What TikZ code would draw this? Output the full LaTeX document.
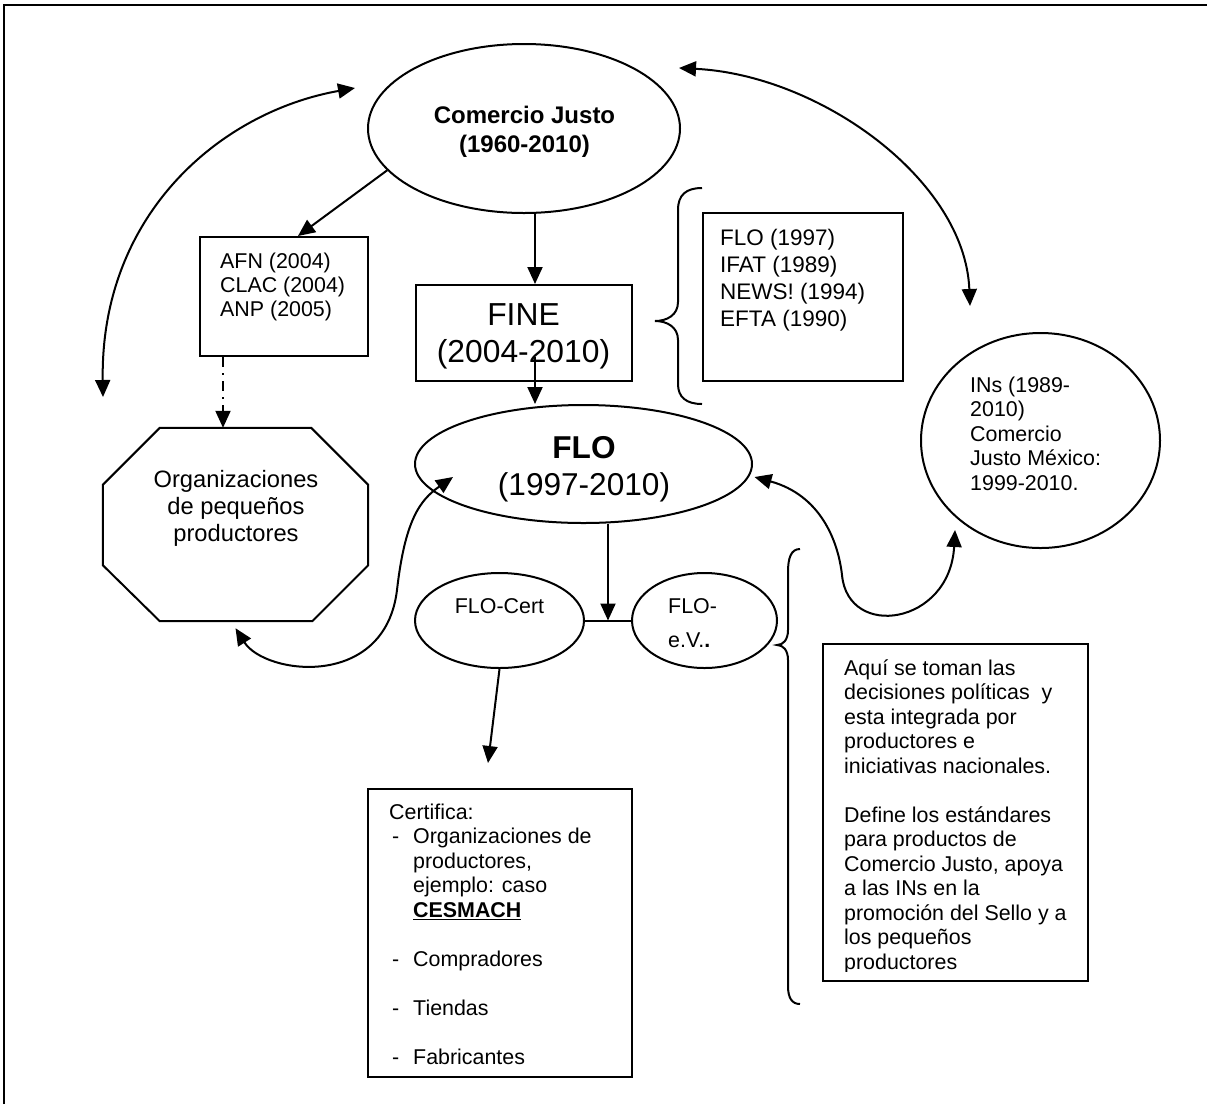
\documentclass[tikz,border=0pt]{standalone}
\usepackage{fontspec}
\setmainfont{Liberation Sans}
\usetikzlibrary{shapes.geometric,arrows.meta,calc}

\newcommand{\lft}[1]{\begin{tabular}[t]{@{}l@{}}#1\end{tabular}}
\newcommand{\ctr}[1]{\begin{tabular}[t]{@{}c@{}}#1\end{tabular}}
\newcommand{\ulb}[1]{\setbox0\hbox{#1}\rlap{\rule[-3.2pt]{\wd0}{1.7pt}}\box0}
\newcommand{\dsh}{\makebox[24pt][l]{\hspace*{3pt}-}}

\begin{document}
\begin{tikzpicture}[x=1pt,y=-1pt,
  ln/.style={line width=2pt},
  arr/.style={ln,-{Triangle[length=17pt,width=15pt]}},
  darr/.style={ln,{Triangle[length=17pt,width=15pt]}-{Triangle[length=17pt,width=15pt]}},
  shp/.style={draw,line width=2pt,inner sep=0pt},
  ell/.style={shp,ellipse},
  box/.style={shp,rectangle},
  txt/.style={inner sep=0pt,font=\fontsize{21.4}{24.5}\selectfont},
  dashdot/.style={dash pattern=on 10pt off 6pt on 2pt off 6pt}
]
\useasboundingbox (0,0) rectangle (1207,1104);
% outer frame
\draw[line width=2pt] (4,1104) -- (4,5) -- (1207,5);

% shapes
\node[ell,minimum width=312pt,minimum height=169pt] (cj) at (524,128.5) {};
\node[box,minimum width=168pt,minimum height=119pt] (afn) at (284,296.5) {};
\node[box,minimum width=216pt,minimum height=96pt] (fine) at (524,333) {};
\node[box,minimum width=200pt,minimum height=168pt] (flobox) at (803,297) {};
\node[ell,minimum width=239pt,minimum height=215pt] (ins) at (1040.5,440.5) {};
\node[ell,minimum width=337pt,minimum height=118pt] (flo) at (583.5,464) {};
\node[inner sep=0pt,minimum width=265pt,minimum height=193pt] (oct) at (235.5,524.5) {};
\draw[ln] ([xshift=57pt]oct.north west) -- ([xshift=-57pt]oct.north east)
  -- ([yshift=-57pt]oct.north east) -- ([yshift=56pt]oct.south east)
  -- ([xshift=-56pt]oct.south east) -- ([xshift=57pt]oct.south west)
  -- ([yshift=56pt]oct.south west) -- ([yshift=-57pt]oct.north west) -- cycle;
\node[ell,minimum width=169pt,minimum height=95pt] (flocert) at (499.5,620.5) {};
\node[ell,minimum width=145pt,minimum height=95pt] (floev) at (704.5,620.5) {};
\node[box,line width=2.6pt,minimum width=264pt,minimum height=288pt] (cert) at (500,933) {};
\node[box,line width=2.6pt,minimum width=265pt,minimum height=337pt] (dec) at (955.5,812.5) {};

% texts
\node[txt,font=\fontsize{24}{29}\selectfont\bfseries,anchor=base] (cjt) at (524.5,123) {\ctr{Comercio Justo\\(1960-2010)}};
\node[txt,font=\fontsize{21.4}{24}\selectfont,anchor=base west] (afnt) at (220,268) {\lft{AFN (2004)\\CLAC (2004)\\ANP (2005)}};
\node[txt,font=\fontsize{31.8}{37}\selectfont,anchor=base] (finet) at (523.5,325) {\ctr{FINE\\(2004-2010)}};
\node[txt,font=\fontsize{22.5}{27.3}\selectfont,anchor=base west] (flobt) at (720,245) {\lft{FLO (1997)\\IFAT (1989)\\NEWS! (1994)\\EFTA (1990)}};
\node[txt,anchor=base west] (inst) at (970,392) {\lft{INs (1989-\\2010)\\Comercio\\Justo México:\\1999-2010.}};
\node[txt,font=\fontsize{31.6}{37}\selectfont,anchor=base] (flot) at (584,458) {\ctr{\textbf{FLO}\\(1997-2010)}};
\node[txt,font=\fontsize{23.7}{27}\selectfont,anchor=base] (octt) at (236,487) {\ctr{Organizaciones\\de pequeños\\productores}};
\node[txt,anchor=base] (flocertt) at (499.5,613) {FLO-Cert};
\node[txt,anchor=base west] (floevt) at (668,613) {\lft{FLO-\\[9.5pt]e.V.\textbf{.}}};
\node[txt,anchor=base west] (certt) at (389,819) {\begin{tabular}[t]{@{}l@{}l@{}}
\multicolumn{2}{@{}l@{}}{Certifica:}\\
\dsh & Organizaciones de\\
 & productores,\\
 & ejemplo: caso\\
 & \ulb{\textbf{CESMACH}}\\
 & \\
\dsh & Compradores\\
 & \\
\dsh & Tiendas\\
 & \\
\dsh & Fabricantes
\end{tabular}};
\begin{scope}
\clip (823,644) rectangle (1088,971);
\node[txt,anchor=base west] (dect) at (844,675) {\lft{Aquí se toman las\\decisiones políticas\ \ y\\esta integrada por\\productores e\\iniciativas nacionales.\\ \\Define los estándares\\para productos de\\Comercio Justo, apoya\\a las INs en la\\promoción del Sello y a\\los pequeños\\productores}};
\end{scope}

% connectors
\draw[arr] (cj.197) -- (afn.77.7);
\draw[arr] ([xshift=11pt]cj.south) -- ([xshift=11pt]fine.north);
\draw[arr] ([xshift=11pt,yshift=-24pt]fine.center) -- ([xshift=-48.5pt]flo.north);
\coordinate (jn) at ($(flocert.east)!0.5!(floev.west)$);
\draw[ln] (flocert.east) -- (floev.west);
\draw[arr] (flo.south -| jn) -- (jn);
\coordinate (certtip) at (488,763);
\draw[arr] (flocert.south) -- (certtip);
\draw[ln,dashdot,-{Triangle[length=17pt,width=15pt]}] ([xshift=-61pt]afn.south) -- ([xshift=-12.5pt]oct.north);

\coordinate (a1) at (355,88);
\coordinate (a2) at (103,397);
\draw[darr] (a1) .. controls (220,112) and (100,215) .. (a2);
\coordinate (b1) at (679,68);
\coordinate (b2) at (970,306);
\draw[darr] (b1) .. controls (820,75) and (965,180) .. (b2);
\draw[darr] ([yshift=-7pt]oct.south) .. controls (265,675) and (385,690) .. (397,590)
  .. controls (405,520) and (420,500) .. ([xshift=-130.5pt,yshift=-13pt]flo.center);
\draw[darr] ([xshift=1.5pt,yshift=-13pt]flo.east) .. controls (820,495) and (838,540) .. (842,575)
  .. controls (848,640) and (950,625) .. ([xshift=-85.5pt,yshift=-89.5pt]ins.center);

% braces
\draw[ln] (702,188) .. controls (686,188) and (678,195) .. (678,210) -- (678,302)
  .. controls (678,315) and (667,321) .. (655,321) .. controls (667,321) and (678,327) .. (678,340)
  -- (678,384) .. controls (678,397) and (686,404) .. (702,404);
\draw[ln] (800,549) .. controls (791,549) and (788,558) .. (788,572) -- (788,630)
  .. controls (788,640) and (783,645) .. (777,645) .. controls (783,645) and (788,650) .. (788,660)
  -- (788,986) .. controls (788,998) and (792,1004) .. (800,1004);
\end{tikzpicture}
\end{document}
